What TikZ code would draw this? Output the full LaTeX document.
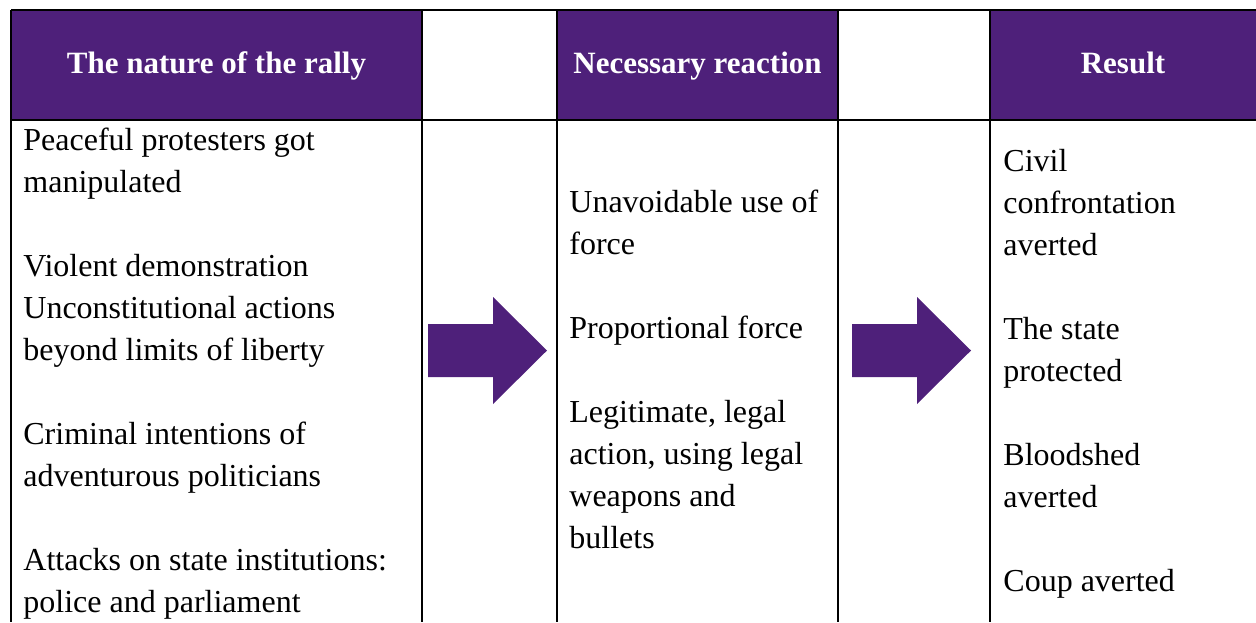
\documentclass[tikz,border=0pt]{standalone}
\usepackage{fontspec}
\setmainfont{Liberation Serif}
\usepackage{xcolor}
\usepackage{tikz}
\usetikzlibrary{positioning}

\definecolor{rallypurple}{RGB}{78,32,122}

\tikzset{
	headcell/.style={font=\fontsize{15.5}{21}\selectfont\bfseries,text=white,anchor=base,inner sep=0pt},
	bodytext/.style={font=\fontsize{16}{21}\selectfont,anchor=north west,align=left,inner sep=0pt,execute at begin node=\strut},
	gridline/.style={line width=1pt},
	blockarrow/.style={fill=rallypurple}
}

\begin{document}
\begin{tikzpicture}[x=0.5pt,y=-0.5pt]
		\useasboundingbox (0,0) rectangle (1256,622);
		%
		\fill[rallypurple] (11,10) rectangle (422,120);
		\fill[rallypurple] (557,10) rectangle (838,120);
		\fill[rallypurple] (990,10) rectangle (1256,120);
		\draw[gridline] (11,10) -- (1256,10);
		\draw[gridline] (11,120) -- (1256,120);
		\foreach \x in {11,422,557,838,990}
			\draw[gridline] (\x,10) -- (\x,622);
		%
		\node[headcell] (natureHead) at (216.5,73) {The nature of the rally};
		\node[headcell] (reactionHead) at (697.5,73) {Necessary reaction};
		\node[headcell] (resultHead) at (1123,73) {Result};
		%
		\node[bodytext] (natureText) at (23,128) {Peaceful protesters got\\ manipulated\\[\baselineskip]
			Violent demonstration\\ Unconstitutional actions\\ beyond limits of liberty\\[\baselineskip]
			Criminal intentions of\\ adventurous politicians\\[\baselineskip]
			Attacks on state institutions:\\ police and parliament};
		\node[bodytext] (reactionText) at (569,190) {Unavoidable use of\\ force\\[\baselineskip]
			Proportional force\\[\baselineskip]
			Legitimate, legal\\ action, using legal\\ weapons and\\ bullets};
		\node[bodytext] (resultText) at (1003,149) {Civil\\ confrontation\\ averted\\[\baselineskip]
			The state\\ protected\\[\baselineskip]
			Bloodshed\\ averted\\[\baselineskip]
			Coup averted};
		%
		\foreach \t in {428,852}
			\fill[blockarrow] (\t,324) -- ({\t+65},324) -- ({\t+65},297) -- ({\t+119},350.5)
				-- ({\t+65},404) -- ({\t+65},377) -- (\t,377) -- cycle;
\end{tikzpicture}
\end{document}
